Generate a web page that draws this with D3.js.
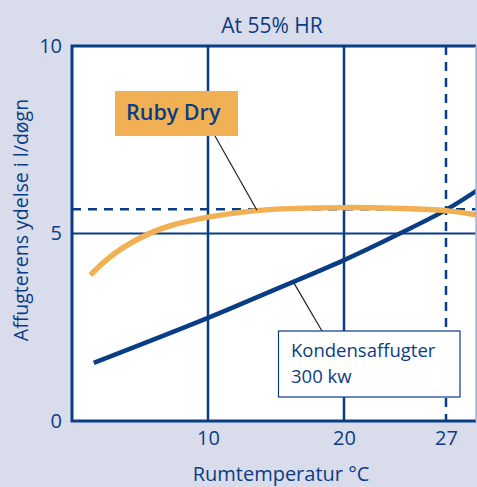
<!DOCTYPE html>
<html>
<head>
<meta charset="utf-8">
<script src="https://cdn.jsdelivr.net/npm/d3@7"></script>
<style>
  html, body { margin: 0; padding: 0; background: #d9dcea; }
  svg { display: block; font-family: "Open Sans", "Noto Sans", sans-serif; }
</style>
</head>
<body>
<div id="chart"></div>
<script>
const W = 477, H = 487;
const blue = "#0b3d85";
const orange = "#f0b053";

// Ruby Dry curve (temp °C, l/døgn)
const rubyTemp = [1.35, 2.45, 3.7, 5.75, 7.35, 9.9, 13, 15, 20, 24, 27.5, 30];
const rubyVal  = [3.89, 4.27, 4.61, 5.01, 5.22, 5.43, 5.59, 5.65, 5.69, 5.67, 5.61, 5.48];
// Kondensaffugter 300 kw
const kondTemp = [1.6, 10, 14.7, 20, 24.1, 27.5, 30];
const kondVal  = [1.55, 2.75, 3.47, 4.29, 5.0, 5.63, 6.2];

const yTicks = [0, 5, 10];
const xGrid = [10, 20];
const yGrid = [5];
const markTemp = 27.5;      // dashed marker (label "27")
const markVal = 5.65;
const xTickValues = [10, 20, 27.5];
const xTickLabels = ["10", "20", "27"];

let pLeft = 72, pTop = 46, pRight = 476, pBottom = 421;

let svg = d3.select("#chart").append("svg")
    .attr("width", W)
    .attr("height", H);

let x = d3.scaleLinear().domain([0, 30]).range([pLeft, pLeft + 13.6 * 30]);
let y = d3.scaleLinear().domain([0, 10]).range([pBottom, pTop]);

svg.append("defs").append("clipPath")
    .attr("id", "clip")
    .append("rect")
    .attr("x", pLeft).attr("y", pTop)
    .attr("width", pRight - pLeft).attr("height", pBottom - pTop);

// plot background
svg.append("rect")
    .attr("x", pLeft).attr("y", pTop)
    .attr("width", pRight - pLeft).attr("height", pBottom - pTop)
    .attr("fill", "white");

let g = svg.append("g").attr("clip-path", "url(#clip)");

// grid
xGrid.forEach(v => {
    g.append("line")
        .attr("x1", x(v)).attr("x2", x(v))
        .attr("y1", pTop).attr("y2", pBottom)
        .attr("stroke", blue).attr("stroke-width", 2.5);
});
yGrid.forEach(v => {
    g.append("line")
        .attr("x1", pLeft).attr("x2", pRight)
        .attr("y1", y(v)).attr("y2", y(v))
        .attr("stroke", blue).attr("stroke-width", 2);
});

// dashed markers
g.append("line")
    .attr("x1", x(markTemp)).attr("x2", x(markTemp))
    .attr("y1", pTop).attr("y2", pBottom)
    .attr("stroke", blue).attr("stroke-width", 2.5)
    .attr("stroke-dasharray", "9,7");
g.append("line")
    .attr("x1", pLeft).attr("x2", pRight)
    .attr("y1", y(markVal)).attr("y2", y(markVal))
    .attr("stroke", blue).attr("stroke-width", 2.5)
    .attr("stroke-dasharray", "9,7");

let line = d3.line()
    .x(d => x(d[0]))
    .y(d => y(d[1]))
    .curve(d3.curveCatmullRom);

g.append("path")
    .attr("d", line(kondTemp.map((t, i) => [t, kondVal[i]])))
    .attr("fill", "none")
    .attr("stroke", blue)
    .attr("stroke-width", 4.5);

g.append("path")
    .attr("d", line(rubyTemp.map((t, i) => [t, rubyVal[i]])))
    .attr("fill", "none")
    .attr("stroke", orange)
    .attr("stroke-width", 5.5);

// border
svg.append("path")
    .attr("d", "M" + pRight + "," + pTop + "H" + pLeft + "V" + pBottom + "H" + pRight)
    .attr("fill", "none")
    .attr("stroke", blue)
    .attr("stroke-width", 3);
svg.append("line")
    .attr("x1", pRight).attr("x2", pRight)
    .attr("y1", pTop).attr("y2", pBottom)
    .attr("stroke", "#9fb0d6").attr("stroke-width", 1.5);

// callout lines
svg.append("line")
    .attr("x1", 215).attr("y1", 136)
    .attr("x2", x(13.6)).attr("y2", y(5.62))
    .attr("stroke", "#222").attr("stroke-width", 1.2);
svg.append("line")
    .attr("x1", x(16.3)).attr("y1", y(3.69))
    .attr("x2", 322).attr("y2", 331)
    .attr("stroke", "#222").attr("stroke-width", 1.2);

// Ruby Dry label
svg.append("rect")
    .attr("x", 115).attr("y", 91)
    .attr("width", 123).attr("height", 45)
    .attr("fill", orange);
svg.append("text")
    .attr("x", 126).attr("y", 120)
    .attr("fill", blue)
    .attr("font-size", 21.5)
    .attr("font-weight", 600)
    .text("Ruby Dry");

// Kondensaffugter label
svg.append("rect")
    .attr("x", 278.5).attr("y", 331)
    .attr("width", 181.5).attr("height", 66)
    .attr("fill", "white")
    .attr("stroke", blue).attr("stroke-width", 1.2);
svg.append("text")
    .attr("x", 291).attr("y", 357)
    .attr("fill", blue)
    .attr("font-size", 18.5)
    .attr("font-weight", 500)
    .text("Kondensaffugter");
svg.append("text")
    .attr("x", 291).attr("y", 383)
    .attr("fill", blue)
    .attr("font-size", 18.5)
    .attr("font-weight", 500)
    .text("300 kw");

// axes
let yAxis = svg.append("g")
    .attr("transform", "translate(" + (pLeft - 10) + ",0)")
    .call(d3.axisLeft(y).tickValues(yTicks).tickSize(0).tickPadding(0));
yAxis.select(".domain").remove();
yAxis.selectAll("text")
    .attr("fill", blue)
    .attr("font-size", 20)
    .attr("font-weight", 500)
    .attr("font-family", "Open Sans, Noto Sans, sans-serif");

let xAxis = svg.append("g")
    .attr("transform", "translate(0," + (pBottom + 10) + ")")
    .call(d3.axisBottom(x).tickValues(xTickValues)
        .tickFormat((d, i) => xTickLabels[i]).tickSize(0).tickPadding(0));
xAxis.select(".domain").remove();
xAxis.selectAll("text")
    .attr("fill", blue)
    .attr("font-size", 20)
    .attr("font-weight", 500)
    .attr("font-family", "Open Sans, Noto Sans, sans-serif");

// titles
svg.append("text")
    .attr("x", 272).attr("y", 33)
    .attr("text-anchor", "middle")
    .attr("fill", blue)
    .attr("font-size", 21)
    .attr("font-weight", 500)
    .text("At 55% HR");

svg.append("text")
    .attr("x", 281).attr("y", 481)
    .attr("text-anchor", "middle")
    .attr("fill", blue)
    .attr("font-size", 20)
    .attr("font-weight", 500)
    .text("Rumtemperatur °C");

svg.append("text")
    .attr("transform", "translate(28,220) rotate(-90)")
    .attr("text-anchor", "middle")
    .attr("fill", blue)
    .attr("font-size", 19.5)
    .attr("font-weight", 500)
    .text("Affugterens ydelse i l/døgn");
</script>
</body>
</html>
